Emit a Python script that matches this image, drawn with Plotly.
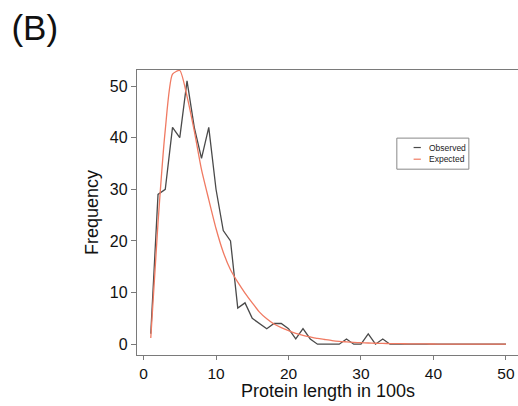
import plotly.graph_objects as go

# Protein length bins (in 100s of residues)
length_bins = list(range(1, 51))

observed_freq = [2, 29, 30, 42, 40, 51, 42, 36, 42, 30,
                 22, 20, 7, 8, 5, 4, 3, 4, 4, 3,
                 1, 3, 1, 0, 0, 0, 0, 1, 0, 0,
                 2, 0, 1, 0, 0, 0, 0, 0, 0, 0,
                 0, 0, 0, 0, 0, 0, 0, 0, 0, 0]

expected_freq = [1.2, 23.5, 41.5, 52.3, 53.0, 48.0, 41.3, 33.8, 28.0, 22.4,
                 17.8, 14.4, 12.0, 9.9, 8.0, 6.2, 4.9, 3.9, 3.2, 2.6,
                 2.1, 1.7, 1.4, 1.1, 0.9, 0.7, 0.55, 0.45, 0.35, 0.28,
                 0.22, 0.18, 0.14, 0.12, 0.1, 0.08, 0.06, 0.05, 0.04, 0.03,
                 0.02, 0.02, 0.01, 0.01, 0.01, 0.0, 0.0, 0.0, 0.0, 0.0]

x_ticks = [0, 10, 20, 30, 40, 50]
y_ticks = [0, 10, 20, 30, 40, 50]

series_names = ["Observed", "Expected"]
obs_color = "#4a4a4a"
exp_color = "#F07A62"
FONT = "Liberation Sans, Arial, Helvetica, sans-serif"

fig = go.Figure()
fig.add_trace(go.Scatter(x=length_bins, y=observed_freq, mode="lines",
                         name=series_names[0], line=dict(color=obs_color, width=1.3),
                         showlegend=False))
fig.add_trace(go.Scatter(x=length_bins, y=expected_freq, mode="lines",
                         name=series_names[1], line=dict(color=exp_color, width=1.3, shape="spline", smoothing=0.6),
                         showlegend=False))

# manual legend box (R style)
lx0, lx1, ly0, ly1 = 0.682, 0.871, 0.652, 0.761
fig.add_shape(type="rect", xref="paper", yref="paper", x0=lx0, x1=lx1, y0=ly0, y1=ly1,
              line=dict(color="#888888", width=1), fillcolor="white", layer="above")
for i, (nm, col) in enumerate(zip(series_names, [obs_color, exp_color])):
    yy = 0.728 - i * 0.041
    fig.add_shape(type="line", xref="paper", yref="paper", x0=0.726, x1=0.745, y0=yy, y1=yy,
                  line=dict(color=col, width=1.2), layer="above")
    fig.add_annotation(x=0.760, y=yy, xref="paper", yref="paper", text=nm, showarrow=False,
                       xanchor="left", yanchor="middle", font=dict(family=FONT, size=8.5, color="#222222"))

# x-axis title placed as annotation (closer to the axis, as in the original)
fig.add_annotation(x=0.5, y=-0.127, xref="paper", yref="paper", text="Protein length in 100s",
                   showarrow=False, xanchor="center", yanchor="middle",
                   font=dict(family=FONT, size=18, color="#111111"))

fig.update_layout(
    width=518, height=406,
    margin=dict(l=137, r=0, t=70, b=51),
    paper_bgcolor="white", plot_bgcolor="white",
    font=dict(family=FONT, color="#111111"),
    title=dict(text="(B)", x=0.022, xref="container", y=0.962, yref="container",
               xanchor="left", yanchor="top", font=dict(family=FONT, size=35, color="#111111")),
    xaxis=dict(range=[-0.9, 51.66], tickmode="array", tickvals=x_ticks,
               showgrid=False, zeroline=False, showline=True, linecolor="#7a7a7a", linewidth=1.3,
               mirror=True, ticks="outside", ticklen=4, tickcolor="#7a7a7a",
               tickfont=dict(family=FONT, size=15.5, color="#111111")),
    yaxis=dict(range=[-2.1, 53.1], tickmode="array", tickvals=y_ticks,
               showgrid=False, zeroline=False, showline=True, linecolor="#7a7a7a", linewidth=1.3,
               ticks="outside", ticklen=5, tickcolor="#7a7a7a",
               tickfont=dict(family=FONT, size=16, color="#111111"),
               title=dict(text="Frequency", font=dict(family=FONT, size=18, color="#111111"), standoff=6)),
)

fig.write_html("out.html", config={"displayModeBar": False},
               post_script="document.body.style.margin='0';document.body.style.padding='0';")
